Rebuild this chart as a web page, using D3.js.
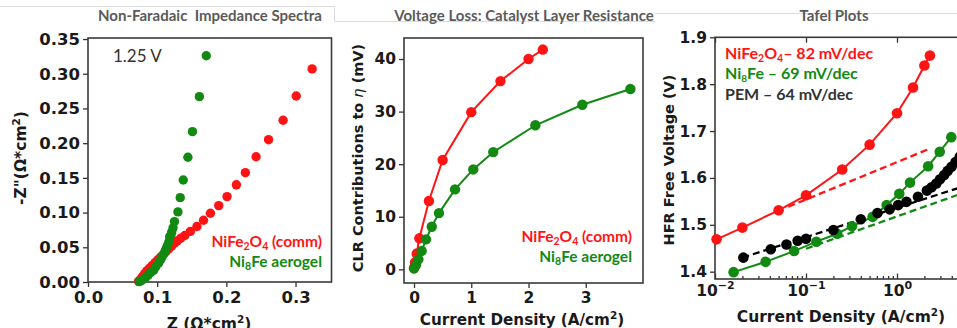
<!DOCTYPE html>
<html>
<head>
<meta charset="utf-8">
<script src="https://cdn.jsdelivr.net/npm/d3@7"></script>
<style>
  body { margin: 0; background: #fff; }
  svg { display: block; }
</style>
</head>
<body>
<svg id="chart" width="957" height="328"></svg>
<script>
// ---- Non-Faradaic impedance spectra (Re Z, -Im Z in ohm*cm2) ----
const eisNiFe2O4Re = [0.073, 0.076, 0.079, 0.082, 0.085, 0.089, 0.093, 0.097, 0.101, 0.105, 0.109, 0.113, 0.117, 0.121, 0.125, 0.129, 0.134, 0.140, 0.148, 0.1575, 0.167, 0.177, 0.189, 0.201, 0.2145, 0.2275, 0.243, 0.261, 0.282, 0.301, 0.324];
const eisNiFe2O4Im = [0.001, 0.004, 0.008, 0.012, 0.016, 0.020, 0.024, 0.028, 0.032, 0.036, 0.040, 0.044, 0.048, 0.052, 0.056, 0.059, 0.063, 0.067, 0.073, 0.080, 0.089, 0.099, 0.110, 0.123, 0.140, 0.1575, 0.1805, 0.205, 0.233, 0.268, 0.307];
const eisNi8FeRe = [0.074, 0.077, 0.080, 0.083, 0.087, 0.091, 0.095, 0.098, 0.102, 0.105, 0.107, 0.110, 0.112, 0.114, 0.115, 0.117, 0.118, 0.120, 0.121, 0.123, 0.125, 0.130, 0.1333, 0.1377, 0.1444, 0.151, 0.161, 0.171];
const eisNi8FeIm = [0.0005, 0.002, 0.004, 0.006, 0.010, 0.014, 0.017, 0.022, 0.027, 0.032, 0.036, 0.041, 0.046, 0.050, 0.053, 0.058, 0.065, 0.068, 0.072, 0.078, 0.087, 0.101, 0.1215, 0.147, 0.1797, 0.2166, 0.267, 0.326];

// ---- Catalyst layer resistance contribution to overpotential (mV) ----
const clrNiFe2O4J = [0.0, 0.017, 0.047, 0.093, 0.26, 0.50, 1.0, 1.51, 2.0, 2.25];
const clrNiFe2O4V = [0.2, 1.3, 3.0, 5.9, 13.0, 20.8, 29.9, 35.8, 40.0, 41.8];
const clrNi8FeJ = [0.0, 0.035, 0.076, 0.134, 0.21, 0.31, 0.436, 0.716, 1.035, 1.384, 2.12, 2.94, 3.78];
const clrNi8FeV = [0.2, 0.8, 1.9, 3.5, 5.7, 8.1, 10.7, 15.2, 19.0, 22.3, 27.4, 31.3, 34.3];

// ---- Tafel plots: HFR-free voltage vs current density ----
const tafNiFe2O4J = [0.0104, 0.02, 0.05, 0.1, 0.25, 0.5, 1.0, 1.5, 2.0, 2.3];
const tafNiFe2O4V = [1.469, 1.494, 1.531, 1.563, 1.618, 1.671, 1.738, 1.793, 1.840, 1.861];
const tafNi8FeJ = [0.016, 0.036, 0.074, 0.13, 0.22, 0.32, 0.54, 0.77, 1.06, 1.39, 2.2, 2.95, 3.95];
const tafNi8FeV = [1.399, 1.421, 1.444, 1.464, 1.481, 1.497, 1.517, 1.542, 1.566, 1.590, 1.625, 1.656, 1.687];
const tafPemJ = [0.0205, 0.041, 0.061, 0.081, 0.1, 0.2, 0.40, 0.61, 0.83, 1.03, 1.27, 1.7, 2.13, 2.4, 2.7, 2.97, 3.3, 3.6, 3.97, 4.4, 4.9];
const tafPemV = [1.430, 1.448, 1.458, 1.466, 1.470, 1.489, 1.512, 1.525, 1.533, 1.542, 1.549, 1.560, 1.573, 1.580, 1.588, 1.597, 1.606, 1.615, 1.624, 1.634, 1.645];
// Tafel fit lines (endpoints)
const fitNiFe2O4J = [0.064, 2.2];
const fitNiFe2O4V = [1.5386, 1.661];
const fitNi8FeJ = [0.1, 5.0];
const fitNi8FeV = [1.449, 1.566];
const fitPemJ = [0.02, 5.0];
const fitPemV = [1.430, 1.580];

// ---- Tick labels ----
const eisXTicks = [0.0, 0.1, 0.2, 0.3];
const eisYTicks = [0.00, 0.05, 0.10, 0.15, 0.20, 0.25, 0.30, 0.35];
const clrXTicks = [0, 1, 2, 3];
const clrYTicks = [0, 10, 20, 30, 40];
const tafXTicks = [0.01, 0.1, 1];
const tafXTickExp = ["\u22122", "\u22121", "0"];
const tafYTicks = [1.4, 1.5, 1.6, 1.7, 1.8, 1.9];

const RED = "#ff1414", GREEN = "#128a12", BLACK = "#000";
const TICK_FONT = "DejaVu Sans, sans-serif";
const NOTE_FONT = "Lato, 'Open Sans', sans-serif";

const svg = d3.select("#chart");

const zip = (a, b) => a.map((v, i) => [v, b[i]]);

// slide frame lines
const frame = svg.append("g").attr("stroke", "#dcdcdc").attr("stroke-width", 1).attr("fill", "none");
frame.append("path").attr("d", "M0,6.5H334.5V21.5H655");
frame.append("path").attr("d", "M655,13.5H957");

// panel titles
const titles = [
  { x: 210, t: "Non-Faradaic  Impedance Spectra" },
  { x: 524, t: "Voltage Loss: Catalyst Layer Resistance" },
  { x: 834, t: "Tafel Plots" }
];
svg.selectAll("text.title").data(titles).join("text")
  .attr("class", "title")
  .attr("x", d => d.x).attr("y", 21)
  .attr("text-anchor", "middle")
  .attr("font-family", NOTE_FONT).attr("font-weight", 700).attr("font-size", 15)
  .attr("fill", "#5a5a5a")
  .style("white-space", "pre")
  .text(d => d.t);

function styleAxis(g, size) {
  g.select(".domain").remove();
  g.selectAll(".tick line").attr("stroke", "#333").attr("stroke-width", 1.3);
  g.selectAll(".tick text").attr("font-family", TICK_FONT).attr("font-weight", "bold")
    .attr("font-size", size).attr("fill", "#1a1a1a");
}

function drawFrame(x0, x1, y0, y1) {
  svg.append("rect").attr("x", x0).attr("y", y1).attr("width", x1 - x0).attr("height", y0 - y1)
    .attr("fill", "none").attr("stroke", "#3a3a3a").attr("stroke-width", 1.6);
}

// text built from pieces: parts = [[text, "sub"|"sup"|null], ...]
function richText(sel, parts, smallSize) {
  let shift = 0;
  parts.forEach(([s, kind]) => {
    const ts = sel.append("tspan").text(s);
    const target = kind === "sub" ? 3 : kind === "sup" ? -6 : 0;
    if (target !== shift) { ts.attr("dy", target - shift); shift = target; }
    if (kind) ts.attr("font-size", smallSize);
  });
  return sel;
}

function dots(data, x, y, r, color) {
  const g = svg.append("g");
  g.selectAll("circle").data(data).join("circle")
    .attr("cx", d => x(d[0])).attr("cy", d => y(d[1])).attr("r", r).attr("fill", color);
}

function line(data, x, y, color, width, dash) {
  svg.append("path").datum(data)
    .attr("d", d3.line().x(d => x(d[0])).y(d => y(d[1])))
    .attr("fill", "none").attr("stroke", color).attr("stroke-width", width)
    .attr("stroke-dasharray", dash || null);
}

// ================= Panel 1: Nyquist =================
{
  const x = d3.scaleLinear().domain([0, 0.352]).range([88, 331.5]);
  const y = d3.scaleLinear().domain([0, 0.3515]).range([282, 38]);
  svg.append("g").attr("transform", "translate(0,282)")
    .call(d3.axisBottom(x).tickValues(eisXTicks).tickFormat(d3.format(".1f")).tickSize(5).tickPadding(4))
    .call(g => styleAxis(g, 16.5));
  svg.append("g").attr("transform", "translate(88,0)")
    .call(d3.axisLeft(y).tickValues(eisYTicks).tickFormat(d3.format(".2f")).tickSize(5).tickPadding(3))
    .call(g => styleAxis(g, 16.5));
  drawFrame(88, 331.5, 282, 38);

  dots(zip(eisNiFe2O4Re, eisNiFe2O4Im), x, y, 4.7, RED);
  dots(zip(eisNi8FeRe, eisNi8FeIm), x, y, 4.7, GREEN);

  svg.append("text").attr("x", 113).attr("y", 62)
    .attr("font-family", NOTE_FONT).attr("font-size", 17).attr("fill", "#333").text("1.25 V");

  richText(svg.append("text").attr("x", 322).attr("y", 247).attr("text-anchor", "end")
    .attr("font-family", NOTE_FONT).attr("font-weight", 700).attr("font-size", 15.5).attr("fill", RED),
    [["NiFe", null], ["2", "sub"], ["O", null], ["4", "sub"], [" (comm)", null]], 10.5);
  richText(svg.append("text").attr("x", 322).attr("y", 267).attr("text-anchor", "end")
    .attr("font-family", NOTE_FONT).attr("font-weight", 700).attr("font-size", 15.5).attr("fill", GREEN),
    [["Ni", null], ["8", "sub"], ["Fe aerogel", null]], 10.5);

  richText(svg.append("text").attr("transform", "translate(26,158) rotate(-90)").attr("text-anchor", "middle")
    .attr("font-family", TICK_FONT).attr("font-weight", "bold").attr("font-size", 15.5).attr("fill", "#1a1a1a"),
    [["-Z\"(\u03A9*cm", null], ["2", "sup"], [")", null]], 10.5);
  richText(svg.append("text").attr("x", 209).attr("y", 329).attr("text-anchor", "middle")
    .attr("font-family", TICK_FONT).attr("font-weight", "bold").attr("font-size", 15.5).attr("fill", "#1a1a1a"),
    [["Z (\u03A9*cm", null], ["2", "sup"], [")", null]], 10.5);
}

// ================= Panel 2: CLR losses =================
{
  const x = d3.scaleLinear().domain([-0.175, 4.0]).range([404, 643]);
  const y = d3.scaleLinear().domain([-2.6, 44.0]).range([283, 38]);
  svg.append("g").attr("transform", "translate(0,283)")
    .call(d3.axisBottom(x).tickValues(clrXTicks).tickFormat(d3.format("d")).tickSize(5).tickPadding(4))
    .call(g => styleAxis(g, 15.5));
  svg.append("g").attr("transform", "translate(404,0)")
    .call(d3.axisLeft(y).tickValues(clrYTicks).tickFormat(d3.format("d")).tickSize(5).tickPadding(3))
    .call(g => styleAxis(g, 15.5));
  drawFrame(404, 643, 283, 38);

  const red = zip(clrNiFe2O4J, clrNiFe2O4V), green = zip(clrNi8FeJ, clrNi8FeV);
  line(red, x, y, RED, 2);
  dots(red, x, y, 5.2, RED);
  line(green, x, y, GREEN, 2);
  dots(green, x, y, 5.2, GREEN);

  richText(svg.append("text").attr("x", 632).attr("y", 242).attr("text-anchor", "end")
    .attr("font-family", NOTE_FONT).attr("font-weight", 700).attr("font-size", 15.5).attr("fill", RED),
    [["NiFe", null], ["2", "sub"], ["O", null], ["4", "sub"], [" (comm)", null]], 10.5);
  richText(svg.append("text").attr("x", 632).attr("y", 262).attr("text-anchor", "end")
    .attr("font-family", NOTE_FONT).attr("font-weight", 700).attr("font-size", 15.5).attr("fill", GREEN),
    [["Ni", null], ["8", "sub"], ["Fe aerogel", null]], 10.5);

  const yl = svg.append("text").attr("transform", "translate(363,158) rotate(-90)").attr("text-anchor", "middle")
    .attr("font-family", TICK_FONT).attr("font-weight", "bold").attr("font-size", 14.5).attr("fill", "#1a1a1a");
  yl.append("tspan").text("CLR Contributions to ");
  yl.append("tspan").attr("font-style", "italic").attr("font-weight", "normal").text("\u03B7");
  yl.append("tspan").text(" (mV)");
  richText(svg.append("text").attr("x", 522).attr("y", 325).attr("text-anchor", "middle")
    .attr("font-family", TICK_FONT).attr("font-weight", "bold").attr("font-size", 15.2).attr("fill", "#1a1a1a"),
    [["Current Density (A/cm", null], ["2", "sup"], [")", null]], 10.5);
}

// ================= Panel 3: Tafel =================
{
  const x = d3.scaleLog().domain([0.01, Math.pow(10, 0.7)]).range([715, 715 + 91 * 2.7]);
  const y = d3.scaleLinear().domain([1.3844, 1.9]).range([279, 37.3]);
  const minors = [];
  for (let e = -2; e <= 0; e++) for (let m = 2; m <= 9; m++) minors.push(m * Math.pow(10, e));

  svg.append("g").attr("transform", "translate(0,279)")
    .call(d3.axisBottom(x).tickValues(minors).tickFormat("").tickSizeInner(-3).tickSizeOuter(0))
    .call(g => styleAxis(g, 15));
  const xa = svg.append("g").attr("transform", "translate(0,279)")
    .call(d3.axisBottom(x).tickValues(tafXTicks).tickFormat("").tickSizeInner(-5.5).tickSizeOuter(0).tickPadding(6))
    .call(g => styleAxis(g, 15.5));
  xa.selectAll(".tick text").attr("dy", "0.71em").each(function (d, i) {
    const t = d3.select(this);
    t.text("10");
    t.append("tspan").attr("dy", -7).attr("font-size", 11).text(tafXTickExp[i]);
  });
  svg.append("g").attr("transform", "translate(0,37.3)")
    .call(d3.axisTop(x).tickValues(tafXTicks).tickFormat("").tickSizeInner(-5.5).tickSizeOuter(0))
    .call(g => styleAxis(g, 15));
  svg.append("g").attr("transform", "translate(715,0)")
    .call(d3.axisLeft(y).tickValues(tafYTicks).tickFormat(d3.format(".1f")).tickSize(5).tickPadding(3))
    .call(g => styleAxis(g, 15.5));
  drawFrame(715, 715 + 91 * 2.7, 279, 37.3);

  line(zip(fitNiFe2O4J, fitNiFe2O4V), x, y, RED, 2.3, "7,4");
  line(zip(fitNi8FeJ, fitNi8FeV), x, y, GREEN, 2.3, "7,4");
  line(zip(fitPemJ, fitPemV), x, y, BLACK, 2.3, "7,4");

  const red = zip(tafNiFe2O4J, tafNiFe2O4V), green = zip(tafNi8FeJ, tafNi8FeV), pem = zip(tafPemJ, tafPemV);
  line(red, x, y, RED, 2);
  dots(red, x, y, 5.3, RED);
  line(green, x, y, GREEN, 2);
  dots(green, x, y, 5.3, GREEN);
  dots(pem, x, y, 5.3, BLACK);

  richText(svg.append("text").attr("x", 725).attr("y", 59)
    .attr("font-family", NOTE_FONT).attr("font-weight", 700).attr("font-size", 16).attr("fill", RED),
    [["NiFe", null], ["2", "sub"], ["O", null], ["4", "sub"], ["\u2013 82 mV/dec", null]], 10.5);
  richText(svg.append("text").attr("x", 725).attr("y", 79)
    .attr("font-family", NOTE_FONT).attr("font-weight", 700).attr("font-size", 16).attr("fill", GREEN),
    [["Ni", null], ["8", "sub"], ["Fe \u2013 69 mV/dec", null]], 10);
  svg.append("text").attr("x", 725).attr("y", 100)
    .attr("font-family", NOTE_FONT).attr("font-weight", 700).attr("font-size", 16).attr("fill", "#333")
    .text("PEM \u2013 64 mV/dec");

  svg.append("text").attr("transform", "translate(674,160) rotate(-90)").attr("text-anchor", "middle")
    .attr("font-family", TICK_FONT).attr("font-weight", "bold").attr("font-size", 14.5).attr("fill", "#1a1a1a")
    .text("HFR Free Voltage (V)");
  richText(svg.append("text").attr("x", 841).attr("y", 322).attr("text-anchor", "middle")
    .attr("font-family", TICK_FONT).attr("font-weight", "bold").attr("font-size", 15.5).attr("fill", "#1a1a1a"),
    [["Current Density (A/cm", null], ["2", "sup"], [")", null]], 10.5);
}
</script>
</body>
</html>
